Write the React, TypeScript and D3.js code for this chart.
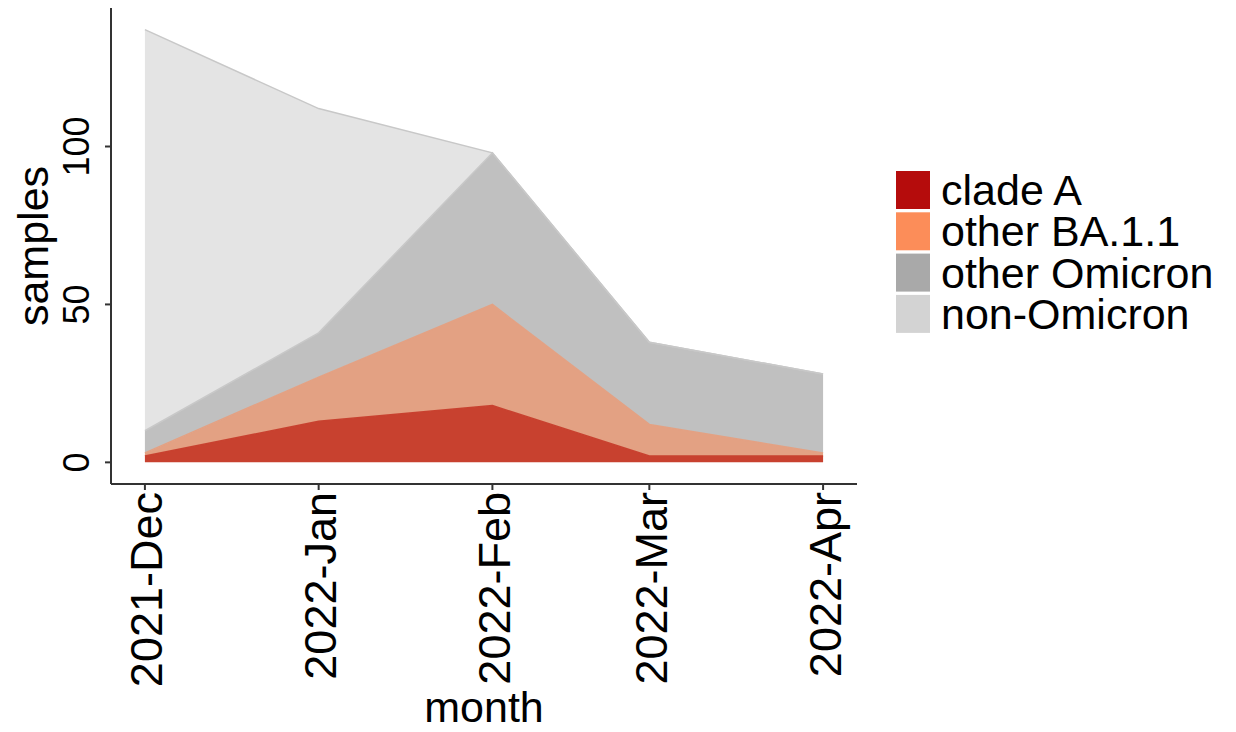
import React from "react";
import * as d3 from "d3";

const months = ["2021-12-01", "2022-01-01", "2022-02-01", "2022-03-01", "2022-04-01"];
const monthLabels = ["2021-Dec", "2022-Jan", "2022-Feb", "2022-Mar", "2022-Apr"];
const seriesNames = ["clade A", "other BA.1.1", "other Omicron", "non-Omicron"];
const cladeA = [2, 13, 18, 2, 2];
const otherBA11 = [1, 14, 32, 10, 1];
const otherOmicron = [7, 14, 48, 26, 25];
const nonOmicron = [127, 71, 0, 0, 0];
const yTicks = [0, 50, 100];

const areaColors = ["#c8412f", "#e3a183", "#c0c0c0", "#e4e4e4"];
const keyColors = ["#b50c0c", "#fc8d59", "#a9a9a9", "#d3d3d3"];

const W = 1236, H = 732;
const panel = { left: 111, right: 857, top: 8, bottom: 484 };
const FONT = "'Liberation Sans', Arial, sans-serif";

export default function App() {
  const dates = months.map((m) => new Date(m + "T00:00:00Z"));
  const rows = dates.map((d, i) => ({
    date: d,
    "clade A": cladeA[i],
    "other BA.1.1": otherBA11[i],
    "other Omicron": otherOmicron[i],
    "non-Omicron": nonOmicron[i],
  }));
  const stacked = d3.stack<any>().keys(seriesNames)(rows);
  const totals = rows.map((r) => seriesNames.reduce((s, k) => s + (r as any)[k], 0));
  const maxT = d3.max(totals) as number;

  const t0 = dates[0].getTime(), t1 = dates[dates.length - 1].getTime();
  const dx = (t1 - t0) * 0.05;
  const x = d3.scaleUtc().domain([new Date(t0 - dx), new Date(t1 + dx)]).range([panel.left, panel.right]);
  const y = d3.scaleLinear().domain([-0.05 * maxT, 1.05 * maxT]).range([panel.bottom, panel.top]);

  const area = d3
    .area<any>()
    .x((d) => x(d.data.date))
    .y0((d) => y(d[0]))
    .y1((d) => y(d[1]));
  const topLine = d3
    .line<any>()
    .x((d) => x(d.data.date))
    .y((d) => y(d[1]));

  const legendX = 896, legendY = 171, rowH = 41.3;

  return (
    <svg width={W} height={H} style={{ position: "absolute", left: 0, top: 0, background: "#fff" }} fontFamily={FONT}>
      <rect x={0} y={0} width={W} height={H} fill="#fff" />
      {stacked.map((s, i) => (
        <path key={"a" + i} d={area(s) as string} fill={areaColors[i]} />
      ))}
      {stacked.map((s, i) => (
        <path key={"l" + i} d={topLine(s) as string} fill="none" stroke={i >= 2 ? "#c8c8c8" : areaColors[i]} strokeWidth={1.5} />
      ))}
      <line x1={panel.left} x2={panel.left} y1={panel.top} y2={panel.bottom} stroke="#333" strokeWidth={2} />
      <line x1={panel.left} x2={panel.right} y1={panel.bottom} y2={panel.bottom} stroke="#333" strokeWidth={2} />
      {yTicks.map((t) => (
        <g key={"yt" + t}>
          <line x1={panel.left - 6} x2={panel.left} y1={y(t)} y2={y(t)} stroke="#333" strokeWidth={2} />
          <text
            transform={`translate(${panel.left - 22},${y(t)}) rotate(-90)`}
            textAnchor="middle"
            fontSize={36}
            fill="#000"
          >
            {t}
          </text>
        </g>
      ))}
      {dates.map((d, i) => (
        <g key={"xt" + i}>
          <line x1={x(d)} x2={x(d)} y1={panel.bottom} y2={panel.bottom + 6} stroke="#333" strokeWidth={2} />
          <text
            transform={`translate(${x(d) + 2},${panel.bottom + 8}) rotate(-90)`}
            textAnchor="end"
            dominantBaseline="central"
            fontSize={45}
            fill="#000"
          >
            {monthLabels[i]}
          </text>
        </g>
      ))}
      <text x={(panel.left + panel.right) / 2} y={722} textAnchor="middle" fontSize={43} fill="#000">
        month
      </text>
      <text transform={`translate(${48},${(panel.top + panel.bottom) / 2}) rotate(-90)`} textAnchor="middle" fontSize={43} fill="#000">
        samples
      </text>
      {seriesNames.map((n, i) => (
        <g key={"lg" + i}>
          <rect x={legendX} y={legendY + i * rowH} width={34} height={38} fill={keyColors[i]} />
          <text x={941} y={legendY + i * rowH + 34} fontSize={43} fill="#000">
            {n}
          </text>
        </g>
      ))}
    </svg>
  );
}
